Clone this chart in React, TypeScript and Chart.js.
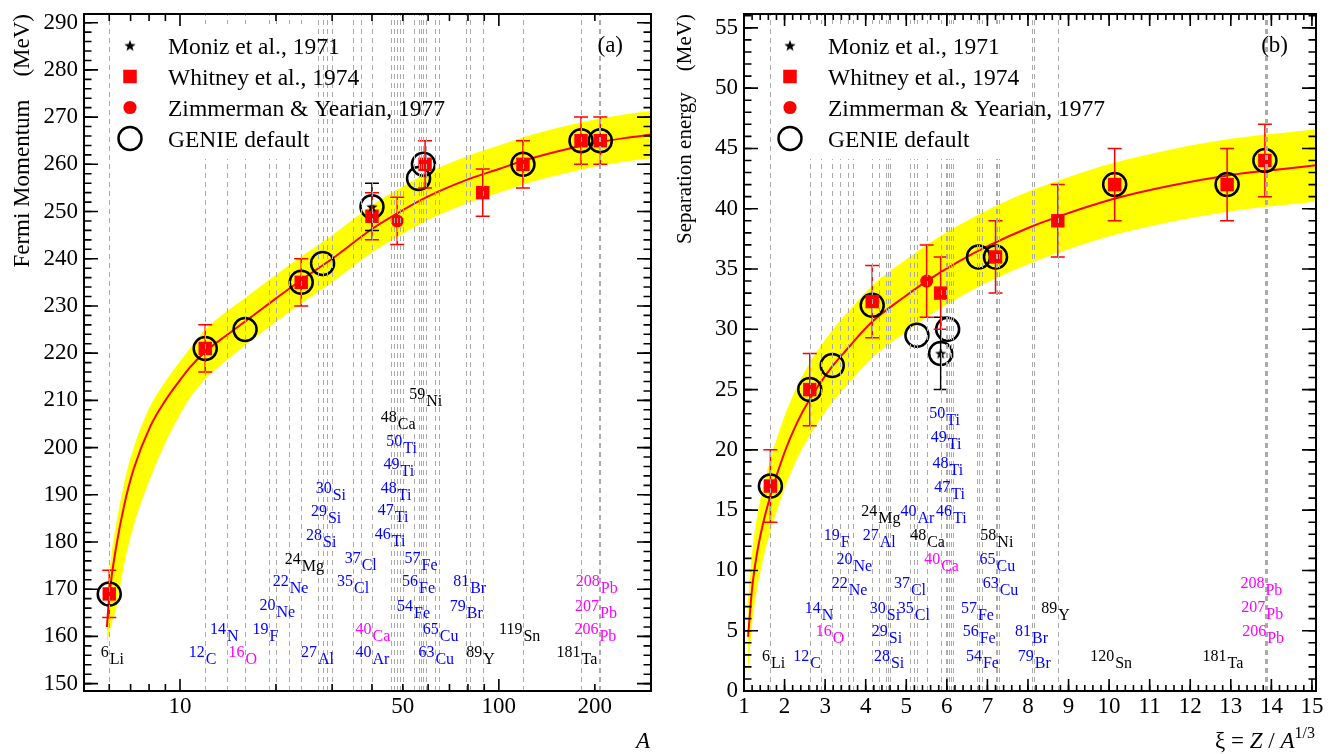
import React, { useEffect, useRef } from "react";
import { Chart, registerables } from "chart.js";

Chart.register(...registerables);

const SERIF = '"Liberation Serif", "Times New Roman", Times, serif';
const RED = "#ff0000";
const YELLOW = "#ffff00";
const BLUE = "#0000ff";
const MAGENTA = "#ff00ff";
const BLACK = "#000000";
const DASH_GREY = "#aaaaaa";

// ================= Panel (a): Fermi momentum vs A =================
const aFitA = [5.9, 5.95, 6.06, 6.29, 6.67, 7.16, 8.07, 9, 10, 10.74, 12, 14, 16, 20, 24, 30, 40, 50, 60, 80, 100, 120, 150, 200, 250, 300];
const aFitKF = [162, 165.5, 171, 178.5, 187.5, 195.5, 204.5, 210, 214.3, 217, 220.3, 223.8, 226.7, 231.6, 235.5, 240, 246.3, 250.3, 253.2, 256.8, 259, 260.8, 262.6, 264.5, 265.6, 266.3];
const aBandHi = [166, 170.5, 176, 183.3, 192.3, 200, 208.8, 214, 218.3, 221, 225, 228.8, 231.7, 236.6, 240.5, 245, 251.3, 255.3, 258.2, 261.8, 264, 265.8, 267.6, 269.5, 270.6, 271.3];
const aBandLo = [158, 159.5, 162, 165.5, 175, 183.5, 193.5, 201, 207, 210.5, 214.5, 218.5, 221.7, 226.6, 230.5, 235, 241.3, 245.3, 248.2, 251.8, 254, 255.8, 257.6, 259.5, 260.6, 261.3];

const aMonizA = [40];
const aMonizKF = [251];
const aMonizErr = [5];

const aWhitneyA = [6, 12, 24, 40, 58.7, 89, 119, 181, 208];
const aWhitneyKF = [169, 221, 235, 249, 260, 254, 260, 265, 265];
const aWhitneyErr = [5, 5, 5, 5, 5, 5, 5, 5, 5];

const aZimmA = [48];
const aZimmKF = [248];
const aZimmErr = [5];

const aGenieA = [6, 12, 16, 24, 28, 40, 56, 58, 119, 181, 208];
const aGenieKF = [169, 221, 225, 235, 239, 251, 257, 260, 260, 265, 265];

const aIsoLines = [6, 12, 14, 16, 19, 20, 22, 24, 27, 28, 29, 30, 35, 37, 40, 46, 47, 48, 49, 50, 54, 56, 57, 58, 59, 63, 65, 79, 81, 89, 119, 181, 206, 207, 208];

const aLabMass = ["6", "12", "14", "16", "19", "20", "22", "24", "27", "28", "29", "30", "35", "37", "40", "40", "46", "47", "48", "49", "50", "48", "59", "54", "56", "57", "63", "65", "79", "81", "89", "119", "181", "206", "207", "208"];
const aLabSym = ["Li", "C", "N", "O", "F", "Ne", "Ne", "Mg", "Al", "Si", "Si", "Si", "Cl", "Cl", "Ar", "Ca", "Ti", "Ti", "Ti", "Ti", "Ti", "Ca", "Ni", "Fe", "Fe", "Fe", "Cu", "Cu", "Br", "Br", "Y", "Sn", "Ta", "Pb", "Pb", "Pb"];
const aLabX = [6, 12, 14, 16, 19, 20, 22, 24, 27, 28, 29, 30, 35, 37, 40, 40, 46, 47, 48, 49, 50, 48, 59, 54, 56, 57, 63, 65, 79, 81, 89, 119, 181, 206, 207, 208];
const aLabY = [155.3, 155.3, 160.2, 155.3, 160.2, 165.3, 170.3, 175.0, 155.3, 180.1, 185.2, 190.1, 170.3, 175.2, 155.3, 160.2, 180.3, 185.3, 190.1, 195.2, 200.1, 205.1, 210.0, 165.1, 170.3, 175.2, 155.3, 160.2, 165.1, 170.3, 155.3, 160.2, 155.3, 160.2, 165.1, 170.3];
const aLabColor = ["k", "b", "b", "m", "b", "b", "b", "k", "b", "b", "b", "b", "b", "b", "b", "m", "b", "b", "b", "b", "b", "k", "k", "b", "b", "b", "b", "b", "b", "b", "k", "k", "k", "m", "m", "m"];

const aXTickLabels = [10, 50, 100, 200];
const aXMajorTicks = [10, 100];
const aXMinorTicks = [6, 7, 8, 9, 20, 30, 40, 50, 60, 70, 80, 90, 200];
const aYTickLabels = [150, 160, 170, 180, 190, 200, 210, 220, 230, 240, 250, 260, 270, 280, 290];

// ================= Panel (b): Separation energy vs xi =================
const bFitXi = [1.1, 1.2, 1.3, 1.45, 1.65, 2.0, 2.3, 2.62, 3.17, 3.5, 4.15, 5.0, 5.5, 6.33, 7.07, 8.0, 8.71, 10.1, 11.5, 13.0, 14.0, 15.1];
const bFitS = [4.5, 8.5, 11, 13.6, 16.2, 19.8, 22.2, 24.2, 26.9, 28.2, 30.6, 32.8, 34.0, 35.7, 37.0, 38.4, 39.3, 40.8, 41.9, 42.8, 43.2, 43.6];
const bBandHi = [7.5, 11.5, 14, 16.6, 19.2, 22.8, 25.2, 27.2, 29.9, 31.2, 33.6, 35.8, 37.0, 38.7, 40.0, 41.4, 42.3, 43.8, 44.9, 45.8, 46.2, 46.6];
const bBandLo = [1.4, 5.5, 8, 10.6, 13.2, 16.8, 19.2, 21.2, 23.9, 25.2, 27.6, 29.8, 31.0, 32.7, 34.0, 35.4, 36.3, 37.8, 38.9, 39.8, 40.2, 40.6];

const bMonizXi = [5.848];
const bMonizS = [28];
const bMonizErr = [3];

const bWhitneyXi = [1.651, 2.621, 4.16, 5.848, 7.2, 8.735, 10.137, 12.909, 13.84];
const bWhitneyS = [17, 25, 32.3, 33, 36, 39, 42, 42, 44];
const bWhitneyErr = [3, 3, 3, 3, 3, 3, 3, 3, 3];

const bZimmXi = [5.503];
const bZimmS = [34];
const bZimmErr = [3];

const bGenieXi = [1.651, 2.621, 3.175, 4.16, 5.263, 5.848, 6.02, 6.78, 7.2, 10.137, 12.909, 13.84];
const bGenieS = [17, 25, 27, 32, 29.5, 28, 30, 36, 36, 42, 42, 44];

const bIsoLines = [1.651, 2.621, 2.905, 3.175, 3.373, 3.569, 3.684, 4.16, 4.333, 4.506, 4.557, 4.61, 5.102, 5.197, 5.263, 5.503, 5.848, 5.972, 6.012, 6.054, 6.096, 6.14, 6.755, 6.796, 6.878, 7.212, 7.233, 7.289, 8.089, 8.157, 8.735, 13.84, 13.862, 13.885];

const bLabMass = ["6", "12", "14", "16", "19", "20", "22", "24", "27", "28", "29", "30", "35", "37", "40", "40", "48", "46", "47", "48", "49", "50", "54", "56", "57", "58", "63", "65", "79", "81", "89", "120", "181", "206", "207", "208"];
const bLabSym = ["Li", "C", "N", "O", "F", "Ne", "Ne", "Mg", "Al", "Si", "Si", "Si", "Cl", "Cl", "Ar", "Ca", "Ca", "Ti", "Ti", "Ti", "Ti", "Ti", "Fe", "Fe", "Fe", "Ni", "Cu", "Cu", "Br", "Br", "Y", "Sn", "Ta", "Pb", "Pb", "Pb"];
const bLabX = [1.651, 2.621, 2.905, 3.175, 3.373, 3.684, 3.569, 4.3, 4.333, 4.61, 4.557, 4.506, 5.197, 5.102, 5.263, 5.848, 5.503, 6.14, 6.096, 6.054, 6.012, 5.972, 6.878, 6.796, 6.755, 7.233, 7.289, 7.212, 8.157, 8.089, 8.735, 10.137, 12.909, 13.885, 13.862, 13.84];
const bLabY = [2.4, 2.4, 6.35, 4.4, 12.4, 10.4, 8.4, 14.4, 12.4, 2.4, 4.4, 6.35, 6.35, 8.4, 14.4, 10.4, 12.4, 14.4, 16.4, 18.4, 20.5, 22.5, 2.4, 4.4, 6.35, 12.4, 8.4, 10.4, 2.4, 4.4, 6.35, 2.4, 2.4, 4.4, 6.4, 8.4];
const bLabColor = ["k", "b", "b", "m", "b", "b", "b", "k", "b", "b", "b", "b", "b", "b", "b", "m", "k", "b", "b", "b", "b", "b", "b", "b", "b", "k", "b", "b", "b", "b", "k", "k", "k", "m", "m", "m"];

const bXTickLabels = [1, 2, 3, 4, 5, 6, 7, 8, 9, 10, 11, 12, 13, 14, 15];
const bYTickLabels = [0, 5, 10, 15, 20, 25, 30, 35, 40, 45, 50, 55];

const LEGEND_TEXT = ["Moniz et al., 1971", "Whitney et al., 1974", "Zimmerman & Yearian, 1977", "GENIE default"];

const colorOf = (c: string) => (c === "b" ? BLUE : c === "m" ? MAGENTA : BLACK);
const pts = (xs: number[], ys: number[]) => xs.map((x, i) => ({ x, y: ys[i] }));

function makeStar(size: number, color: string) {
  const c = document.createElement("canvas");
  c.width = size;
  c.height = size;
  const g = c.getContext("2d")!;
  const cx = size / 2, cy = size / 2 + 0.5, R = size / 2, r = R * 0.42;
  g.beginPath();
  for (let i = 0; i < 10; i++) {
    const ang = -Math.PI / 2 + (i * Math.PI) / 5;
    const rr = i % 2 === 0 ? R : r;
    g.lineTo(cx + rr * Math.cos(ang), cy + rr * Math.sin(ang));
  }
  g.closePath();
  g.fillStyle = color;
  g.fill();
  return c;
}

const decorPlugin = {
  id: "decor",
  afterDatasetsDraw(chart: any, _args: any, o: any) {
    const ctx: CanvasRenderingContext2D = chart.ctx;
    const ca = chart.chartArea;
    const xs = chart.scales.x;
    const ys = chart.scales.y;
    ctx.save();
    ctx.beginPath();
    ctx.rect(ca.left, ca.top, ca.right - ca.left, ca.bottom - ca.top);
    ctx.clip();
    // error bars
    ctx.setLineDash([]);
    for (const eb of o.errorBars) {
      ctx.strokeStyle = eb.color;
      ctx.lineWidth = 1.5;
      for (let i = 0; i < eb.x.length; i++) {
        const px = xs.getPixelForValue(eb.x[i]);
        const pT = ys.getPixelForValue(eb.y[i] + eb.err[i]);
        const pB = ys.getPixelForValue(eb.y[i] - eb.err[i]);
        ctx.beginPath();
        ctx.moveTo(px, pT);
        ctx.lineTo(px, pB);
        ctx.moveTo(px - 7, pT);
        ctx.lineTo(px + 7, pT);
        ctx.moveTo(px - 7, pB);
        ctx.lineTo(px + 7, pB);
        ctx.stroke();
      }
    }
    // isotope dashed lines
    ctx.strokeStyle = DASH_GREY;
    ctx.lineWidth = 1;
    ctx.setLineDash([5, 4]);
    for (const v of o.isoLines) {
      const px = Math.round(xs.getPixelForValue(v)) + 0.5;
      ctx.beginPath();
      ctx.moveTo(px, ca.bottom);
      ctx.lineTo(px, ca.top);
      ctx.stroke();
    }
    ctx.setLineDash([]);
    // legend box (white)
    const lb = o.legendBox;
    ctx.fillStyle = "#ffffff";
    ctx.fillRect(ca.left + lb[0], ca.top + lb[1], lb[2], lb[3]);
    ctx.restore();

    // isotope labels
    ctx.save();
    ctx.font = `16px ${SERIF}`;
    ctx.textBaseline = "alphabetic";
    const L = o.labels;
    for (let i = 0; i < L.x.length; i++) {
      const px = xs.getPixelForValue(L.x[i]);
      const py = ys.getPixelForValue(L.y[i]) + 5.5;
      ctx.fillStyle = colorOf(L.color[i]);
      ctx.textAlign = "right";
      ctx.fillText(L.mass[i], px - 0.5, py - 7);
      ctx.textAlign = "left";
      ctx.fillText(L.sym[i], px + 0.5, py);
    }
    ctx.restore();

    // legend entries
    ctx.save();
    const mx = ca.left + 46;
    const tx = ca.left + 84;
    const rowY = (i: number) => ca.top + 31.5 + 31 * i;
    ctx.drawImage(o.star, mx - o.star.width / 2, rowY(0) - o.star.height / 2);
    ctx.fillStyle = RED;
    ctx.fillRect(mx - 6.75, rowY(1) - 6.75, 13.5, 13.5);
    ctx.beginPath();
    ctx.arc(mx, rowY(2), 6.6, 0, Math.PI * 2);
    ctx.fill();
    ctx.beginPath();
    ctx.arc(mx, rowY(3), 11.5, 0, Math.PI * 2);
    ctx.strokeStyle = BLACK;
    ctx.lineWidth = 2.5;
    ctx.stroke();
    ctx.fillStyle = BLACK;
    ctx.font = `23.5px ${SERIF}`;
    ctx.textAlign = "left";
    ctx.textBaseline = "alphabetic";
    LEGEND_TEXT.forEach((t, i) => ctx.fillText(t, tx, rowY(i) + 8.5));
    ctx.restore();
  },
  afterDraw(chart: any, _args: any, o: any) {
    const ctx: CanvasRenderingContext2D = chart.ctx;
    const ca = chart.chartArea;
    const xs = chart.scales.x;
    const ys = chart.scales.y;
    ctx.save();
    ctx.strokeStyle = BLACK;
    ctx.lineWidth = 2;
    ctx.setLineDash([]);
    ctx.strokeRect(ca.left, ca.top, ca.right - ca.left, ca.bottom - ca.top);
    ctx.lineWidth = 1.6;
    const xTick = (v: number, len: number) => {
      const px = xs.getPixelForValue(v);
      if (px < ca.left + 1 || px > ca.right - 1) return;
      ctx.beginPath();
      ctx.moveTo(px, ca.bottom);
      ctx.lineTo(px, ca.bottom - len);
      ctx.moveTo(px, ca.top);
      ctx.lineTo(px, ca.top + len);
      ctx.stroke();
    };
    const yTick = (v: number, len: number) => {
      const py = ys.getPixelForValue(v);
      if (py < ca.top + 1 || py > ca.bottom - 1) return;
      ctx.beginPath();
      ctx.moveTo(ca.left, py);
      ctx.lineTo(ca.left + len, py);
      ctx.moveTo(ca.right, py);
      ctx.lineTo(ca.right - len, py);
      ctx.stroke();
    };
    const t = o.ticks;
    t.xMajor.forEach((v: number) => xTick(v, 12));
    t.xMinor.forEach((v: number) => xTick(v, t.xMinorLen));
    t.yMajor.forEach((v: number) => yTick(v, 14));
    t.yMinor.forEach((v: number) => yTick(v, 7.5));

    // y title (rotated, aligned to top)
    ctx.fillStyle = BLACK;
    ctx.font = `${o.yTitleSize}px ${SERIF}`;
    ctx.save();
    ctx.translate(ca.left - o.yTitleOffset, 14);
    ctx.rotate(-Math.PI / 2);
    ctx.textAlign = "right";
    ctx.textBaseline = "alphabetic";
    ctx.fillText(o.yTitle, 0, 0);
    ctx.restore();

    // tag
    ctx.font = `23px ${SERIF}`;
    ctx.textAlign = "right";
    ctx.textBaseline = "alphabetic";
    ctx.fillText(o.tag, ca.right - 28, 52);

    // x title (rich text, right aligned)
    const parts = o.xTitle as { t: string; it?: boolean; sup?: boolean }[];
    const fontOf = (p: any) => `${p.it ? "italic " : ""}${p.sup ? 16 : 23}px ${SERIF}`;
    let total = 0;
    for (const p of parts) {
      ctx.font = fontOf(p);
      total += ctx.measureText(p.t).width;
    }
    let x = ca.right - 1 - total;
    ctx.textAlign = "left";
    for (const p of parts) {
      ctx.font = fontOf(p);
      ctx.fillText(p.t, x, p.sup ? 738 : 748);
      x += ctx.measureText(p.t).width;
    }
    ctx.restore();
  },
};

function rangeSteps(a: number, b: number, s: number) {
  const out: number[] = [];
  for (let v = a; v <= b + 1e-9; v += s) out.push(Math.round(v * 1000) / 1000);
  return out;
}

function buildConfig(p: any) {
  const star = makeStar(12, BLACK);
  return {
    type: "scatter",
    data: {
      datasets: [
        { type: "line", data: pts(p.fitX, p.bandLo), borderColor: "rgba(0,0,0,0)", borderWidth: 0, pointRadius: 0, fill: false, order: 10, cubicInterpolationMode: "monotone" },
        { type: "line", data: pts(p.fitX, p.bandHi), borderColor: "rgba(0,0,0,0)", borderWidth: 0, pointRadius: 0, fill: "-1", backgroundColor: YELLOW, order: 10, cubicInterpolationMode: "monotone" },
        { type: "line", data: pts(p.fitX, p.fitY), borderColor: RED, borderWidth: 2, pointRadius: 0, fill: false, order: 9, cubicInterpolationMode: "monotone" },
        { data: pts(p.genieX, p.genieY), pointStyle: "circle", pointRadius: 11.5, borderColor: BLACK, borderWidth: 2.5, backgroundColor: "rgba(0,0,0,0)", order: 5 },
        { data: pts(p.whitX, p.whitY), pointStyle: "rect", pointRadius: 9.5, borderWidth: 0, backgroundColor: RED, borderColor: RED, order: 4 },
        { data: pts(p.zimX, p.zimY), pointStyle: "circle", pointRadius: 6.5, borderWidth: 0, backgroundColor: RED, borderColor: RED, order: 3 },
        { data: pts(p.monX, p.monY), pointStyle: star, pointRadius: 6, order: 2 },
      ],
    },
    options: {
      animation: false,
      responsive: false,
      events: [],
      layout: { padding: { left: 0, right: p.padRight, top: 12, bottom: 0 } },
      plugins: {
        legend: { display: false },
        tooltip: { enabled: false },
        decor: {
          errorBars: [
            { x: p.monX, y: p.monY, err: p.monE, color: BLACK },
            { x: p.whitX, y: p.whitY, err: p.whitE, color: RED },
            { x: p.zimX, y: p.zimY, err: p.zimE, color: RED },
          ],
          isoLines: p.isoLines,
          labels: p.labels,
          legendBox: p.legendBox,
          star,
          ticks: p.ticks,
          yTitle: p.yTitle,
          yTitleSize: p.yTitleSize,
          yTitleOffset: p.yTitleOffset,
          tag: p.tag,
          xTitle: p.xTitle,
        },
      },
      scales: {
        x: {
          type: p.xType,
          min: p.xMin,
          max: p.xMax,
          position: "bottom",
          grid: { display: false, drawTicks: false },
          border: { display: false },
          ticks: { font: { family: SERIF, size: 23 }, color: BLACK, padding: 2, maxRotation: 0, autoSkip: false, callback: (v: any) => String(v) },
          afterBuildTicks: (s: any) => { s.ticks = p.xLabels.map((v: number) => ({ value: v })); },
          afterFit: (s: any) => { s.height = 63; s.paddingLeft = 0; s.paddingRight = 0; },
        },
        y: {
          type: "linear",
          min: p.yMin,
          max: p.yMax,
          position: "left",
          grid: { display: false, drawTicks: false },
          border: { display: false },
          ticks: { font: { family: SERIF, size: 23 }, color: BLACK, padding: 6, autoSkip: false, callback: (v: any) => String(v) },
          afterBuildTicks: (s: any) => { s.ticks = p.yLabels.map((v: number) => ({ value: v })); },
          afterFit: (s: any) => { s.width = p.yAxisW; s.paddingTop = 0; s.paddingBottom = 0; },
        },
      },
    },
    plugins: [decorPlugin],
  };
}

const panelA = {
  xType: "logarithmic", xMin: 5, xMax: 300, yMin: 148.44, yMax: 291.84,
  xLabels: aXTickLabels, yLabels: aYTickLabels,
  fitX: aFitA, fitY: aFitKF, bandHi: aBandHi, bandLo: aBandLo,
  monX: aMonizA, monY: aMonizKF, monE: aMonizErr,
  whitX: aWhitneyA, whitY: aWhitneyKF, whitE: aWhitneyErr,
  zimX: aZimmA, zimY: aZimmKF, zimE: aZimmErr,
  genieX: aGenieA, genieY: aGenieKF,
  isoLines: aIsoLines,
  labels: { mass: aLabMass, sym: aLabSym, x: aLabX, y: aLabY, color: aLabColor },
  legendBox: [28, 10, 204, 135],
  ticks: { xMajor: aXMajorTicks, xMinor: aXMinorTicks, xMinorLen: 7, yMajor: aYTickLabels, yMinor: rangeSteps(150, 290, 2) },
  yTitle: "Fermi Momentum    (MeV)", yTitleSize: 23, yTitleOffset: 55.5, tag: "(a)",
  xTitle: [{ t: "A", it: true }],
  padRight: 9, yAxisW: 84,
};

const panelB = {
  xType: "linear", xMin: 1, xMax: 15.1, yMin: 0, yMax: 56.15,
  xLabels: bXTickLabels, yLabels: bYTickLabels,
  fitX: bFitXi, fitY: bFitS, bandHi: bBandHi, bandLo: bBandLo,
  monX: bMonizXi, monY: bMonizS, monE: bMonizErr,
  whitX: bWhitneyXi, whitY: bWhitneyS, whitE: bWhitneyErr,
  zimX: bZimmXi, zimY: bZimmS, zimE: bZimmErr,
  genieX: bGenieXi, genieY: bGenieS,
  isoLines: bIsoLines,
  labels: { mass: bLabMass, sym: bLabSym, x: bLabX, y: bLabY, color: bLabColor },
  legendBox: [28, 10, 228, 135],
  ticks: { xMajor: bXTickLabels, xMinor: rangeSteps(1, 15, 0.2), xMinorLen: 6, yMajor: bYTickLabels, yMinor: rangeSteps(0, 56, 1) },
  yTitle: "Separation energy    (MeV)", yTitleSize: 21, yTitleOffset: 53, tag: "(b)",
  xTitle: [{ t: "\u03BE = " }, { t: "Z", it: true }, { t: " / " }, { t: "A", it: true }, { t: "1/3", sup: true }],
  padRight: 14, yAxisW: 79,
};

export default function App() {
  const refA = useRef<HTMLCanvasElement>(null);
  const refB = useRef<HTMLCanvasElement>(null);
  useEffect(() => {
    const cA = new Chart(refA.current as any, buildConfig(panelA) as any);
    const cB = new Chart(refB.current as any, buildConfig(panelB) as any);
    return () => {
      cA.destroy();
      cB.destroy();
    };
  }, []);
  return (
    <div style={{ position: "absolute", left: 0, top: 0, width: 1330, height: 754, background: "#fff" }}>
      <canvas ref={refA} width={665} height={754} style={{ position: "absolute", left: 0, top: 0, width: 665, height: 754 }} />
      <canvas ref={refB} width={665} height={754} style={{ position: "absolute", left: 665, top: 0, width: 665, height: 754 }} />
    </div>
  );
}
